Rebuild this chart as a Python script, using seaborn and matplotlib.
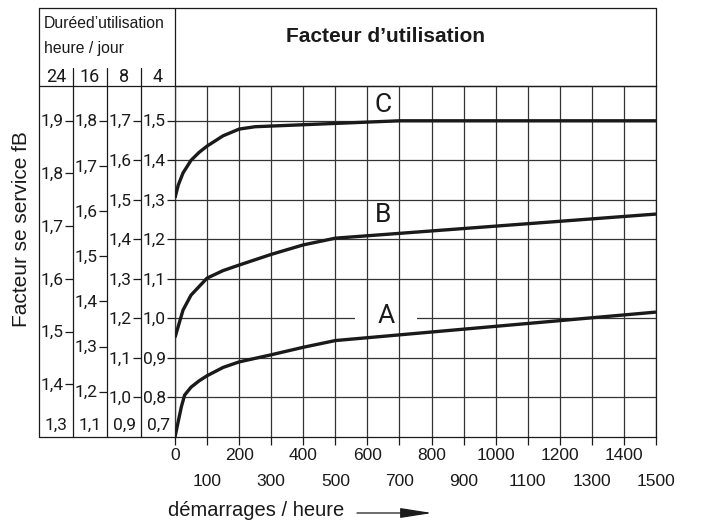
import matplotlib
matplotlib.use("Agg")
import matplotlib.pyplot as plt
import seaborn as sns
import pandas as pd

# Service factor curves (read on the 4 h/day scale) against starts per hour
starts_a = [0, 10, 20, 30, 50, 75, 100, 150, 200, 300, 400, 500, 1500]
fb_a = [0.70, 0.739, 0.777, 0.806, 0.826, 0.842, 0.855, 0.876, 0.890, 0.908, 0.927, 0.944, 1.016]
starts_b = [0, 25, 50, 100, 150, 200, 300, 400, 500, 1500]
fb_b = [0.952, 1.021, 1.059, 1.102, 1.121, 1.135, 1.162, 1.186, 1.203, 1.264]
starts_c = [0, 10, 25, 50, 75, 100, 150, 200, 250, 700, 1500]
fb_c = [1.305, 1.337, 1.368, 1.400, 1.420, 1.436, 1.462, 1.479, 1.485, 1.50, 1.50]

# Curve names and where their letters sit
curve_names = ["A", "B", "C"]
name_x = [658, 650, 650]
name_y = [1.006, 1.261, 1.54]

# Operating hours per day and the matching service factor scales
hours = ["24", "16", "8", "4"]
scale_base = [1.3, 1.1, 0.9, 0.7]
scale_slope = [0.75, 0.875, 1.0, 1.0]
scale_ticks = [
    [1.4, 1.5, 1.6, 1.7, 1.8, 1.9],
    [1.2, 1.3, 1.4, 1.5, 1.6, 1.7, 1.8],
    [1.0, 1.1, 1.2, 1.3, 1.4, 1.5, 1.6, 1.7],
    [0.8, 0.9, 1.0, 1.1, 1.2, 1.3, 1.4, 1.5],
]

# Starts per hour axis
x_even = [0, 200, 400, 600, 800, 1000, 1200, 1400]
x_odd = [100, 300, 500, 700, 900, 1100, 1300, 1500]

sns.set_theme(style="white")
plt.rcParams["font.family"] = ["Liberation Sans", "DejaVu Sans"]
THIN = ["Roboto", "Liberation Sans", "DejaVu Sans"]
INK = "#1a1a1a"
GRID = "#333333"

W, H = 701, 522
fig = plt.figure(figsize=(W / 100, H / 100), dpi=100)
fig.patch.set_facecolor("white")


def box(x0, y0, x1, y1):
    return [x0 / W, 1 - y1 / H, (x1 - x0) / W, (y1 - y0) / H]


# Pixel-space layer for the table frame and free text
frame = fig.add_axes([0, 0, 1, 1])
frame.set_xlim(0, W)
frame.set_ylim(H, 0)
frame.axis("off")

L, R, TOP, HEAD, BOT, PL = 39, 656, 8, 86, 437, 175
col_edges = [39, 73, 107, 141, 175]
lw_frame = 0.9
frame.plot([L, R], [TOP, TOP], color=INK, lw=lw_frame)
frame.plot([L, R], [HEAD, HEAD], color=INK, lw=lw_frame)
frame.plot([L, PL], [BOT, BOT], color=INK, lw=lw_frame)
frame.plot([L, L], [TOP, BOT], color=INK, lw=lw_frame)
frame.plot([PL, PL], [TOP, HEAD], color=INK, lw=lw_frame)
frame.plot([R, R], [TOP, HEAD], color=INK, lw=lw_frame)
for xe in col_edges[1:-1]:
    frame.plot([xe, xe], [68, BOT], color=INK, lw=lw_frame)

frame.text(44, 24, "Duréed’utilisation", fontsize=11.3, ha="left", va="center", color=INK)
frame.text(44, 49, "heure / jour", fontsize=11.3, ha="left", va="center", color=INK)
for i, h in enumerate(hours):
    cx = (col_edges[i] + col_edges[i + 1]) / 2
    frame.text(cx, 77.5, h, fontsize=13, family=THIN, fontweight="normal",
               ha="center", va="center", color=INK)

frame.text(385, 36, "Facteur d’utilisation", fontsize=15, fontweight="bold",
           ha="center", va="center", color=INK)
frame.text(22, 229, "Facteur se service fB", fontsize=15, rotation=90,
           ha="center", va="center", color=INK)
frame.text(256, 511, "démarrages / heure", fontsize=14.5, ha="center", va="center", color=INK)
frame.annotate("", xy=(432, 513), xytext=(357, 513),
               arrowprops=dict(arrowstyle="-|>,head_length=1.4,head_width=0.22",
                               color=INK, lw=0.9, mutation_scale=14, shrinkA=0, shrinkB=0))

# Main chart area
ax = fig.add_axes(box(PL, HEAD, R, BOT))
y_top = 1.588
ax.set_xlim(0, 1500)
ax.set_ylim(0.7, y_top)
ax.set_facecolor("none")
for s in ax.spines.values():
    s.set_color(INK)
    s.set_linewidth(lw_frame)

ax.hlines(scale_ticks[3], 0, 1500, color=GRID, lw=0.9, zorder=1)
ax.vlines(x_even + x_odd, 0.7, y_top, color=GRID, lw=0.9, zorder=3)

curves = pd.concat([
    pd.DataFrame({"starts": starts_a, "fb": fb_a, "curve": "A"}),
    pd.DataFrame({"starts": starts_b, "fb": fb_b, "curve": "B"}),
    pd.DataFrame({"starts": starts_c, "fb": fb_c, "curve": "C"}),
])
sns.lineplot(data=curves, x="starts", y="fb", units="curve", estimator=None,
             sort=False, color=INK, lw=2.4, ax=ax, zorder=4,
             solid_capstyle="butt", solid_joinstyle="round")

for name, nx, ny in zip(curve_names, name_x, name_y):
    kw = {}
    if name == "A":
        kw["bbox"] = dict(boxstyle="square,pad=0.85", fc="white", ec="none")
    ax.text(nx, ny, name, fontsize=19, family=THIN, fontweight="normal",
            ha="center", va="center", color=INK, zorder=2, **kw)

ax.set_xticks(x_even)
ax.set_xticklabels([str(v) for v in x_even])
ax.set_xticks(x_odd, minor=True)
ax.set_xticklabels([str(v) for v in x_odd], minor=True)
ax.tick_params(axis="x", which="both", bottom=True, direction="out", length=6,
               width=0.9, color=INK, labelsize=12.5, labelcolor=INK)
ax.tick_params(axis="x", which="major", pad=2)
ax.tick_params(axis="x", which="minor", pad=21)
ax.tick_params(axis="y", left=False, labelleft=False)
ax.set_xlabel("")
ax.set_ylabel("")

# Service factor scales for each operating time
for i in range(4):
    cax = fig.add_axes(box(col_edges[i], HEAD, col_edges[i + 1], BOT))
    base, slope = scale_base[i], scale_slope[i]
    cax.set_ylim(base, base + (y_top - 0.7) * slope)
    cax.set_xlim(0, 1)
    cax.set_facecolor("none")
    for s in cax.spines.values():
        s.set_visible(False)
    cax.set_xticks([])
    cax.set_yticks(scale_ticks[i])
    cax.tick_params(axis="y", left=False, right=True, direction="in", length=6,
                    width=0.9, color=INK, labelleft=False, labelright=False)
    for v in scale_ticks[i]:
        cax.annotate(f"{v:.1f}".replace(".", ","), xy=(1, v),
                     xycoords=cax.get_yaxis_transform(), xytext=(-9, -1),
                     textcoords="offset pixels", ha="right", va="center",
                     fontsize=12.5, family=THIN, fontweight="normal", color=INK)
    cax.annotate(f"{base:.1f}".replace(".", ","), xy=(0.5, base),
                 xycoords=cax.get_yaxis_transform(), xytext=(0, 4),
                 textcoords="offset pixels", ha="center", va="bottom",
                 fontsize=12.5, family=THIN, fontweight="normal", color=INK)

fig.savefig("out.png", dpi=100)
